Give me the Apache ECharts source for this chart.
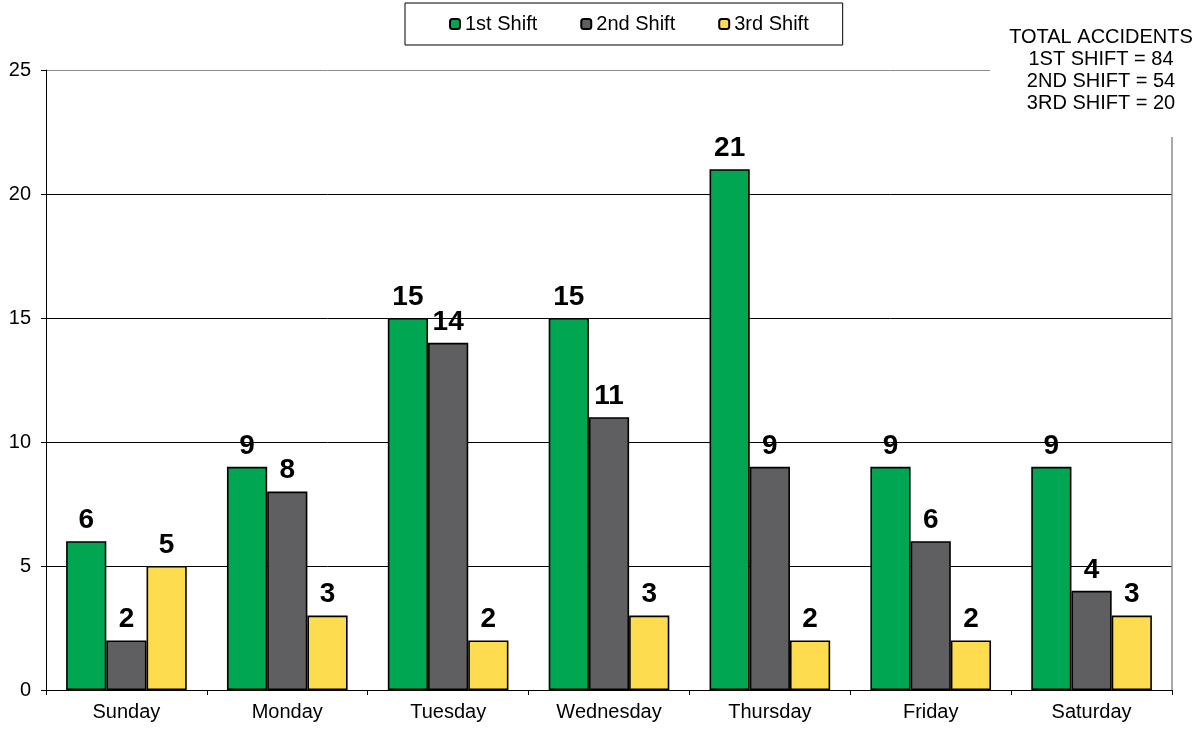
<!DOCTYPE html>
<html><head><meta charset="utf-8">
<script src="https://cdn.jsdelivr.net/npm/echarts@6/dist/echarts.min.js"></script>
<style>html,body{margin:0;padding:0;background:#fff}#c{width:1199px;height:729px}</style>
</head><body><div id="c"></div>
<script>
const categories = ['Sunday','Monday','Tuesday','Wednesday','Thursday','Friday','Saturday'];
const shift1 = [6, 9, 15, 15, 21, 9, 9];
const shift2 = [2, 8, 14, 11, 9, 6, 4];
const shift3 = [5, 3, 2, 3, 2, 2, 3];
const seriesNames = ['1st Shift','2nd Shift','3rd Shift'];
const totalsLines = ['TOTAL ACCIDENTS','1ST SHIFT = 84','2ND SHIFT = 54','3RD SHIFT = 20'];
const colors = ['#00A651','#5F5F61','#FDDC50'];
const FONT = '"Liberation Sans", Arial, sans-serif';

const chart = echarts.init(document.getElementById('c'), null, {renderer:'canvas'});
function mk(name, data, color){
  return {
    name, type:'bar', data, barGap:'0%', barCategoryGap:'25%',
    itemStyle:{color, borderColor:'#000', borderWidth:1.6},
    label:{show:true, position:'top', distance:7, color:'#000', fontSize:28, fontWeight:'bold', fontFamily:FONT}
  };
}
chart.setOption({
  animation:false,
  textStyle:{fontFamily:FONT},
  legend:{
    data:seriesNames, left:405, top:3, padding:[11,34,11,44], itemGap:43,
    itemWidth:10, itemHeight:10, borderColor:'#000', borderWidth:1,
    textStyle:{fontSize:20, color:'#000', fontFamily:FONT}
  },
  grid:{left:46, right:27, top:70, bottom:39, containLabel:false},
  xAxis:{
    type:'category', data:categories,
    axisLine:{lineStyle:{color:'#000', width:1}},
    axisTick:{show:true, length:5, lineStyle:{color:'#000'}},
    axisLabel:{fontSize:20, color:'#000', margin:12, fontFamily:FONT}
  },
  yAxis:[{
    type:'value', min:0, max:25, interval:5,
    axisLine:{show:true, lineStyle:{color:'#000', width:1}},
    axisTick:{show:true, length:5, lineStyle:{color:'#000'}},
    axisLabel:{fontSize:20, color:'#000', margin:15, fontFamily:FONT},
    splitLine:{show:true, lineStyle:{color:['#000','#000','#000','#000','#000','#8c8c8c'], width:1}}
  },{
    type:'value', min:0, max:25, interval:5, position:'right',
    axisLine:{show:true, lineStyle:{color:'#8c8c8c', width:1.5}},
    axisTick:{show:false}, axisLabel:{show:false}, splitLine:{show:false}
  }],
  series:[mk(seriesNames[0], shift1, colors[0]), mk(seriesNames[1], shift2, colors[1]), mk(seriesNames[2], shift3, colors[2])],
  graphic:[
    {type:'rect', x:990, y:0, z:100, shape:{width:209, height:137}, style:{fill:'#fff'}},
    {type:'text', z:101, x:1101, y:26, style:{
      text: totalsLines.join('\n'), fill:'#000', font:'20px ' + FONT, lineHeight:22, textAlign:'center', textVerticalAlign:'top'
    }}
  ]
});
</script></body></html>
